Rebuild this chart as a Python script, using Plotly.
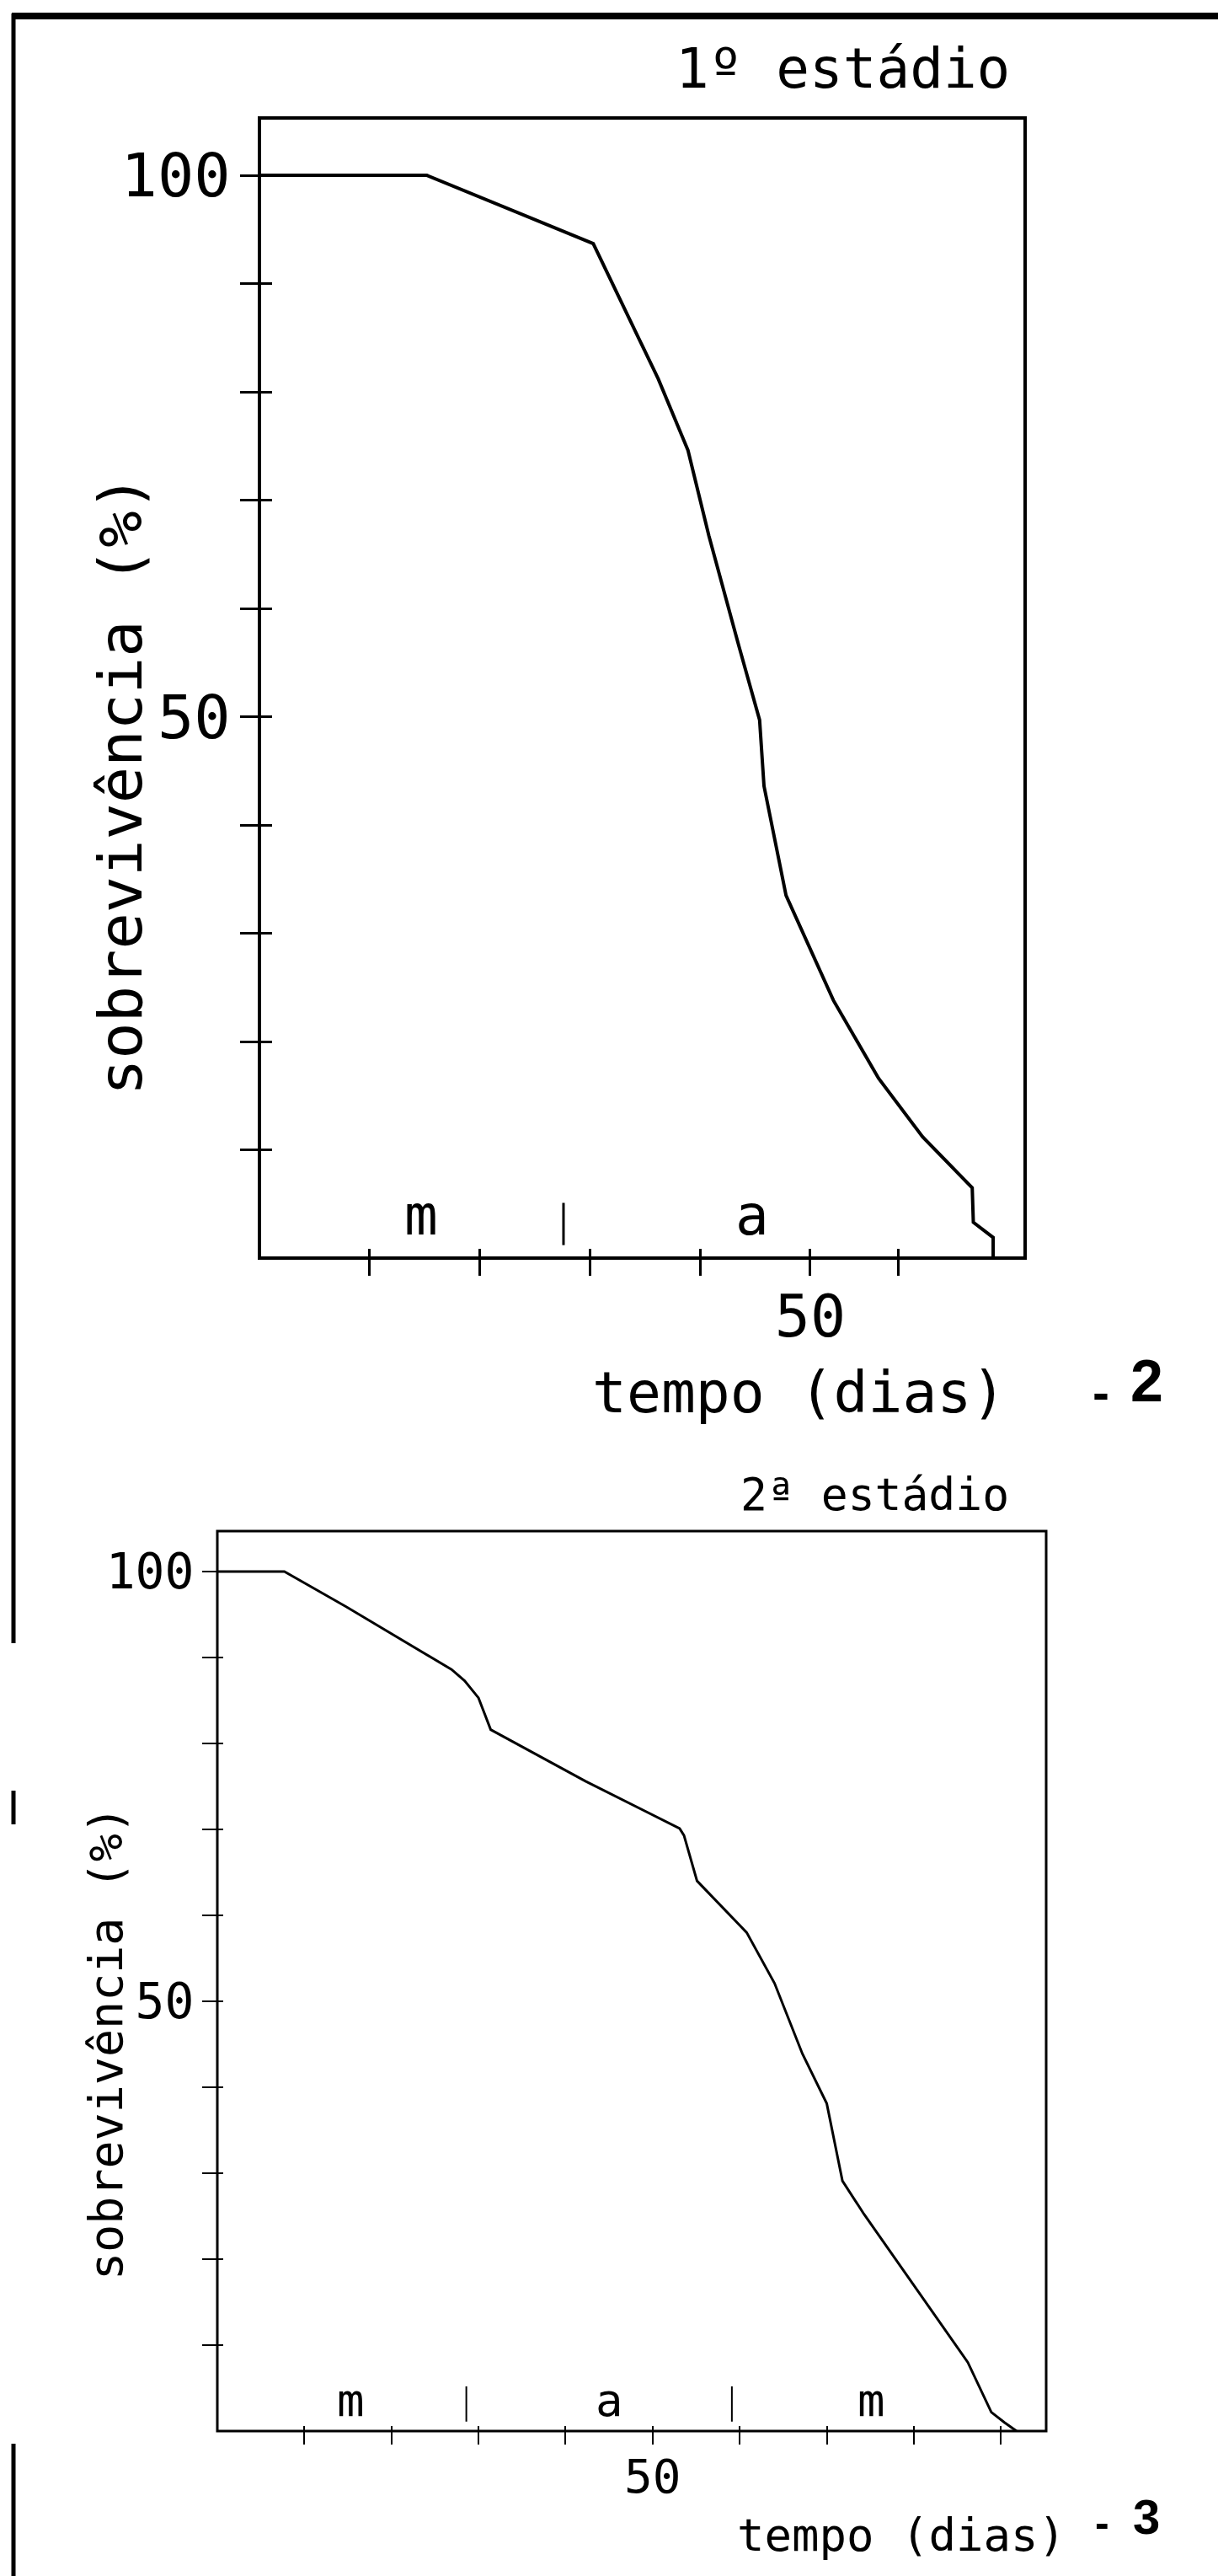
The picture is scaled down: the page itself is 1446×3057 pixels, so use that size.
import plotly.graph_objects as go

W, H = 1446, 3057
MONO = "DejaVu Sans Mono"
BOLD = "Liberation Sans"

# ---- data -------------------------------------------------------------
# 1st stage: survival (%) versus time (days)
dias_1 = [0, 15.2, 30.3, 36.2, 38.9, 40.8, 43.5, 45.4, 45.8, 47.8, 52.1,
          56.2, 60.2, 64.7, 64.8, 66.6, 66.6]
sobrev_1 = [100, 100, 93.7, 81.2, 74.6, 66.7, 56.6, 49.7, 43.6, 33.5, 23.8,
            16.6, 11.2, 6.5, 3.3, 1.9, 0]

# 2nd stage: survival (%) versus time (days)
dias_2 = [0, 7.7, 14.8, 26.9, 28.4, 30.0, 31.4, 42.3, 53.1, 53.6, 55.1, 60.8,
          64.0, 67.2, 70.0, 71.8, 74.3, 86.2, 88.9, 90.4, 91.8]
sobrev_2 = [100, 100, 95.9, 88.6, 87.3, 85.3, 81.6, 75.6, 70.1, 69.3, 64.0,
            58.0, 52.1, 43.9, 38.1, 29.1, 25.2, 8.0, 2.2, 1.0, 0]

# axis ticks
x_ticks_1 = [10, 20, 30, 40, 50, 58]
x_labels_1 = ["", "", "", "", "50", ""]
x_ticks_2 = [10, 20, 30, 40, 50, 60, 70, 80, 90]
x_labels_2 = ["", "", "", "", "50", "", "", "", ""]
y_ticks = [10, 20, 30, 40, 50, 60, 70, 80, 90, 100]
y_labels = ["", "", "", "", "50", "", "", "", "", "100"]

# month letters along the time axis and the boundaries between months
meses_1 = ["m", "a"]
meses_x_1 = [14.7, 44.7]
divisas_1 = [27.6]
meses_2 = ["m", "a", "m"]
meses_x_2 = [15.3, 45.0, 75.1]
divisas_2 = [28.6, 59.1]


def px_x(p):
    return p / W


def px_y(p):
    return 1 - p / H


fig = go.Figure()

fig.add_trace(go.Scatter(x=dias_1, y=sobrev_1, mode="lines",
                         line=dict(color="black", width=4),
                         xaxis="x", yaxis="y", showlegend=False, hoverinfo="skip"))
fig.add_trace(go.Scatter(x=dias_2, y=sobrev_2, mode="lines",
                         line=dict(color="black", width=3),
                         xaxis="x2", yaxis="y2", showlegend=False, hoverinfo="skip"))
# empty traces that carry the inner half of the crossing tick marks
for xa, ya in (("x3", "y3"), ("x4", "y4")):
    fig.add_trace(go.Scatter(x=[None], y=[None], xaxis=xa, yaxis=ya,
                             showlegend=False, hoverinfo="skip"))

range_x1 = [0, 69.5]
range_y1 = [0, 105.3]
range_x2 = [0, 95.2]
range_y2 = [0, 104.7]

dom_x1 = [px_x(308), px_x(1217)]
dom_y1 = [px_y(1493), px_y(140)]
dom_x2 = [px_x(258), px_x(1242)]
dom_y2 = [px_y(2885), px_y(1817)]

common = dict(showgrid=False, zeroline=False, color="black", tickcolor="black",
              tickmode="array", showline=False)

fig.update_layout(
    width=W, height=H, autosize=False,
    margin=dict(l=0, r=0, t=0, b=0, pad=0),
    paper_bgcolor="white", plot_bgcolor="white",
    font=dict(family=MONO, color="black"),
    xaxis=dict(domain=dom_x1, range=range_x1, anchor="y",
               ticks="outside", ticklen=20, tickwidth=3,
               tickvals=x_ticks_1, ticktext=x_labels_1,
               tickfont=dict(family=MONO, size=70), ticklabelstandoff=-12, **common),
    yaxis=dict(domain=dom_y1, range=range_y1, anchor="x",
               ticks="outside", ticklen=22, tickwidth=3,
               tickvals=y_ticks, ticktext=y_labels,
               tickfont=dict(family=MONO, size=72), ticklabelstandoff=-3, **common),
    xaxis3=dict(overlaying="x", anchor="y3", range=range_x1, ticks="inside",
                ticklen=11, tickwidth=3, tickvals=x_ticks_1, showticklabels=False,
                **common),
    yaxis3=dict(overlaying="y", anchor="x3", range=range_y1, ticks="inside",
                ticklen=15, tickwidth=3, tickvals=y_ticks, showticklabels=False,
                **common),
    xaxis2=dict(domain=dom_x2, range=range_x2, anchor="y2",
                ticks="outside", ticklen=15, tickwidth=2,
                tickvals=x_ticks_2, ticktext=x_labels_2,
                tickfont=dict(family=MONO, size=56), ticklabelstandoff=-10, **common),
    yaxis2=dict(domain=dom_y2, range=range_y2, anchor="x2",
                ticks="outside", ticklen=17, tickwidth=2,
                tickvals=y_ticks, ticktext=y_labels,
                tickfont=dict(family=MONO, size=58), ticklabelstandoff=-2, **common),
    xaxis4=dict(overlaying="x2", anchor="y4", range=range_x2, ticks="inside",
                ticklen=6, tickwidth=2, tickvals=x_ticks_2, showticklabels=False,
                **common),
    yaxis4=dict(overlaying="y2", anchor="x4", range=range_y2, ticks="inside",
                ticklen=7, tickwidth=2, tickvals=y_ticks, showticklabels=False,
                **common),
)


def label(text, x, y, size, family=MONO, angle=0):
    return dict(text=text, x=px_x(x), y=px_y(y), xref="paper", yref="paper",
                xanchor="center", yanchor="middle", showarrow=False,
                textangle=angle, font=dict(family=family, size=size))


ann = [
    # stage titles
    label("1º estádio", 1000, 82, 66),
    label("2ª estádio", 1038, 1774, 53),
    # axis titles
    label("sobrevivência (%)", 143, 932, 72, angle=-90),
    label("tempo (dias)", 948, 1652, 68),
    label("sobrevivência (%)", 126, 2425, 55, angle=-90),
    label("tempo (dias)", 1070, 3008, 54),
    # figure numbers
    label("<b>-</b>", 1307, 1652, 60, BOLD),
    label("<b>2</b>", 1361, 1639, 70, BOLD),
    label("<b>-</b>", 1308, 2994, 50, BOLD),
    label("<b>3</b>", 1361, 2986, 58, BOLD),
]

# month letters inside the plots
for t, xv in zip(meses_1, meses_x_1):
    ann.append(dict(text=t, x=xv, y=3.9, xref="x", yref="y", showarrow=False,
                    xanchor="center", yanchor="middle",
                    font=dict(family=MONO, size=66)))
for t, xv in zip(meses_2, meses_x_2):
    ann.append(dict(text=t, x=xv, y=3.6, xref="x2", yref="y2", showarrow=False,
                    xanchor="center", yanchor="middle",
                    font=dict(family=MONO, size=54)))
fig.update_layout(annotations=ann)

shapes = [
    # plot frames
    dict(type="rect", xref="x domain", yref="y domain", x0=0, x1=1, y0=0, y1=1,
         line=dict(color="black", width=4)),
    dict(type="rect", xref="x2 domain", yref="y2 domain", x0=0, x1=1, y0=0, y1=1,
         line=dict(color="black", width=3)),
]
for xv in divisas_1:
    shapes.append(dict(type="line", xref="x", yref="y", x0=xv, x1=xv, y0=1.2, y1=5.1,
                       line=dict(color="black", width=3)))
for xv in divisas_2:
    shapes.append(dict(type="line", xref="x2", yref="y2", x0=xv, x1=xv, y0=1.1, y1=5.2,
                       line=dict(color="black", width=2)))
# page frame: heavy rule across the top and a rule down the left edge
shapes.append(dict(type="line", xref="paper", yref="paper", x0=px_x(14), x1=1,
                   y0=px_y(19), y1=px_y(19), line=dict(color="black", width=8)))
for a, b in ((16, 1950), (2125, 2165), (2900, H)):
    shapes.append(dict(type="line", xref="paper", yref="paper", x0=px_x(16), x1=px_x(16),
                       y0=px_y(a), y1=px_y(b), line=dict(color="black", width=5)))
fig.update_layout(shapes=shapes)

fig.write_html("out.html")
